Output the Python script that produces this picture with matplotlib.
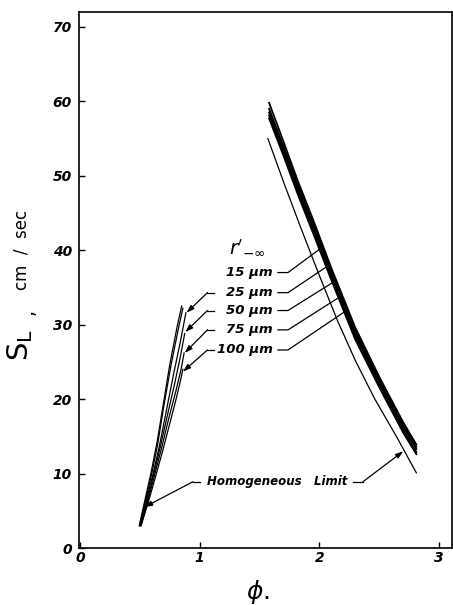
import numpy as np
import matplotlib
matplotlib.use("Agg")
import matplotlib.pyplot as plt

# burning velocity S_L (cm/sec) vs equivalence ratio phi, for several drop sizes
sizes = ["15", "25", "50", "75", "100"]

# lean branch, one list per drop size
lean_phi = [
    [0.50, 0.55, 0.60, 0.65, 0.70, 0.76, 0.82, 0.86],
    [0.50, 0.555, 0.61, 0.665, 0.72, 0.78, 0.84, 0.885],
    [0.505, 0.56, 0.615, 0.67, 0.73, 0.79, 0.84, 0.875],
    [0.51, 0.565, 0.62, 0.68, 0.74, 0.80, 0.845, 0.87],
    [0.51, 0.57, 0.63, 0.69, 0.75, 0.80, 0.84, 0.86],
]
lean_sl = [
    [3.0, 6.5, 10.0, 14.0, 19.0, 24.5, 29.3, 32.2],
    [3.0, 6.4, 9.9, 13.8, 18.3, 23.2, 27.8, 31.6],
    [3.0, 6.3, 9.8, 13.5, 17.8, 22.0, 25.8, 28.8],
    [3.0, 6.2, 9.6, 13.3, 17.3, 21.0, 24.0, 26.2],
    [3.0, 6.1, 9.5, 13.0, 16.7, 19.8, 22.5, 24.0],
]

# rich branch
rich_phi = [1.58, 1.70, 1.82, 1.95, 2.10, 2.30, 2.50, 2.70, 2.81]
rich_sl = [
    [59.8, 54.6, 49.3, 44.0, 37.6, 29.6, 23.0, 16.9, 13.9],
    [59.0, 54.0, 48.8, 43.5, 37.2, 29.2, 22.7, 16.6, 13.6],
    [58.5, 53.5, 48.3, 43.0, 36.8, 28.8, 22.4, 16.3, 13.3],
    [58.1, 53.1, 47.9, 42.6, 36.4, 28.4, 22.0, 15.9, 12.9],
    [57.7, 52.7, 47.5, 42.2, 36.0, 28.0, 21.6, 15.5, 12.6],
]

# homogeneous limit
homo_lean_phi = [0.495, 0.545, 0.595, 0.645, 0.695, 0.75, 0.81, 0.85]
homo_lean_sl = [3.0, 6.6, 10.2, 14.3, 19.2, 24.6, 29.6, 32.5]
homo_rich_phi = [1.57, 1.70, 1.85, 2.00, 2.15, 2.30, 2.46, 2.65, 2.81]
homo_rich_sl = [55.0, 49.2, 42.8, 36.6, 30.6, 25.2, 20.1, 14.8, 10.1]

fnt = dict(family="DejaVu Sans", style="italic", weight="bold")

fig = plt.figure(figsize=(4.53, 6.05), dpi=100)
ax = fig.add_axes([79 / 453, 57 / 605, 373 / 453, 536 / 605])

for ph, sl in zip(lean_phi, lean_sl):
    ax.plot(ph, sl, color="k", lw=0.9)
for sl in rich_sl:
    ax.plot(rich_phi, sl, color="k", lw=1.3)
ax.plot(homo_lean_phi, homo_lean_sl, color="k", lw=0.9)
ax.plot(homo_rich_phi, homo_rich_sl, color="k", lw=0.9)

ax.set_xlim(-0.008, 3.108)
ax.set_ylim(0, 72)
ax.set_xticks([0, 1, 2, 3])
ax.set_yticks(range(0, 71, 10))
ax.tick_params(direction="in", length=4, width=1, top=False, right=False)
ax.tick_params(axis="y", pad=5)
ax.tick_params(axis="x", pad=2)
for lab in ax.get_xticklabels() + ax.get_yticklabels():
    lab.set_fontsize(10)
    lab.set_fontstyle("italic")
    lab.set_fontweight("bold")
for sp in ax.spines.values():
    sp.set_linewidth(1.2)

# labels of drop size
ax.text(1.40, 40.3, r"$r'_{-\infty}$", fontsize=14, ha="center", va="center")
lab_right = 1.612
lab_sl = [37.0, 34.3, 31.9, 29.3, 26.6]
hit_right = [40.5, 38.0, 35.8, 33.7, 31.7]
hit_left = [None, 31.6, 29.0, 26.2, 23.7]
arr = dict(arrowstyle="-|>,head_length=0.45,head_width=0.15", color="k",
           lw=0.9, shrinkA=0, shrinkB=0)
for i, s in enumerate(sizes):
    y = lab_sl[i]
    ax.text(lab_right, y, s + " \u03bcm", ha="right", va="center", fontsize=9.5, **fnt)
    # leader to rich branch
    tx = np.interp(hit_right[i], rich_sl[i][::-1], rich_phi[::-1])
    ax.plot([1.654, 1.738, tx], [y, y, hit_right[i]], color="k", lw=0.9)
    # leader to lean branch
    if hit_left[i] is not None:
        lx = np.interp(hit_left[i], lean_sl[i], lean_phi[i])
        ax.plot([1.12, 1.065], [y, y], color="k", lw=0.9)
        ax.annotate("", xy=(lx + 0.005, hit_left[i]), xytext=(1.065, y), arrowprops=arr)

# homogeneous limit label
ax.text(1.65, 8.9, "Homogeneous   Limit", ha="center", va="center", fontsize=8.5, **fnt)
hx = np.interp(5.5, homo_lean_sl, homo_lean_phi)
ax.plot([1.0, 0.944], [8.9, 8.9], color="k", lw=0.9)
ax.annotate("", xy=(hx + 0.01, 5.5), xytext=(0.944, 8.9), arrowprops=arr)
rx = np.interp(13.0, homo_rich_sl[::-1], homo_rich_phi[::-1])
ax.plot([2.28, 2.364], [8.9, 8.9], color="k", lw=0.9)
ax.annotate("", xy=(rx - 0.01, 13.0), xytext=(2.364, 8.9), arrowprops=arr)

# axis titles
fig.text(20 / 453, 1 - 345 / 605, r"$\mathregular{S_L}$", fontsize=21, rotation=90,
         ha="center", va="center")
fig.text(28 / 453, 1 - 312 / 605, ",", fontsize=14, rotation=90,
         ha="center", va="center")
fig.text(21 / 453, 1 - 250 / 605, "cm  /  sec", fontsize=12, rotation=90,
         ha="center", va="center")
fig.text(258 / 453, 1 - 592 / 605, r"$\phi$.", fontsize=18, ha="center", va="center")

fig.savefig("out.png", dpi=100)
